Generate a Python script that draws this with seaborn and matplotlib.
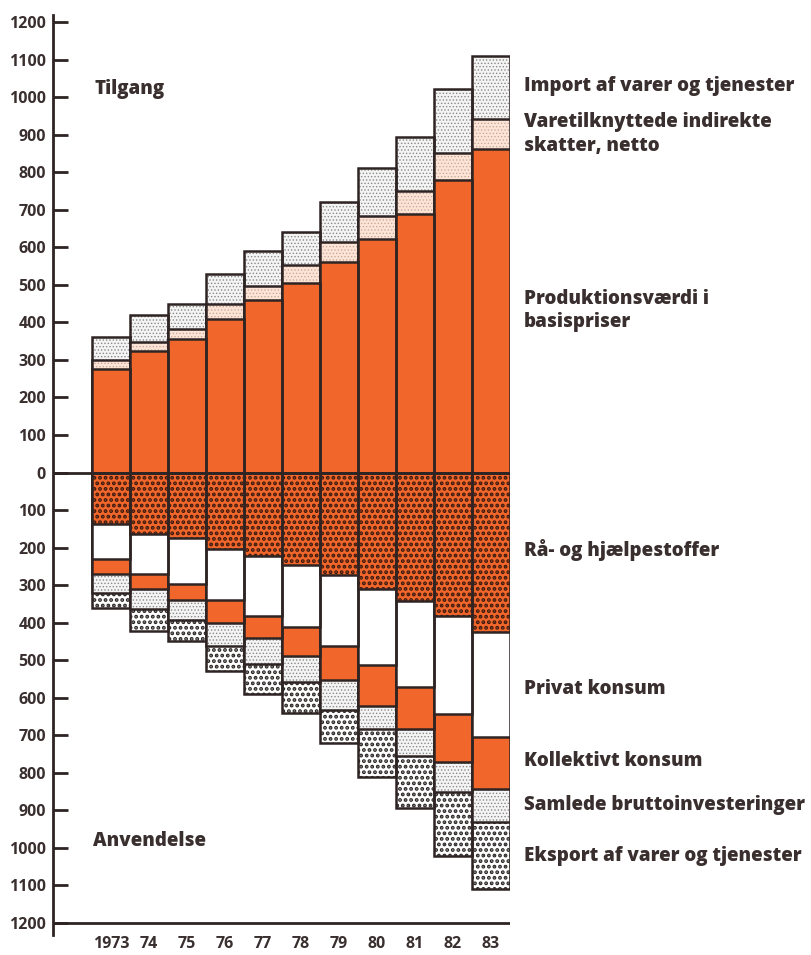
"""Tilgang og anvendelse 1973-83: stacked bars above and below zero."""

import matplotlib
matplotlib.use("Agg")
import matplotlib.pyplot as plt
import numpy as np
import pandas as pd
import seaborn as sns

years = ["1973", "74", "75", "76", "77", "78", "79", "80", "81", "82", "83"]

# Tilgang (supply), drawn upwards
production = [277, 323, 355, 408, 459, 504, 560, 621, 690, 779, 861]
indirect_taxes = [24, 24, 28, 40, 37, 48, 53, 62, 59, 72, 80]
imports = [59, 74, 67, 82, 93, 88, 107, 128, 144, 170, 168]

# Anvendelse (use), drawn downwards
raw_materials = [138, 164, 175, 204, 223, 245, 274, 311, 342, 382, 425]
private_consumption = [93, 107, 122, 136, 159, 166, 187, 203, 228, 260, 280]
collective_consumption = [40, 39, 42, 60, 59, 78, 92, 107, 113, 130, 139]
investment = [50, 53, 54, 62, 68, 70, 79, 62, 71, 80, 87]
exports = [39, 58, 57, 68, 80, 81, 88, 128, 139, 169, 178]

ORANGE = "#F1662A"
DARK = "#2e2424"
TEXT = "#3a2f2f"

# name -> (facecolor, hatch, hatch colour, hatch linewidth)
styles = {
    "production": (ORANGE, None, None, 0),
    "taxes": ("#FBE3D6", ".....", "#c4a595", 0.5),
    "imports": ("#F4F4F4", ".....", "#8a8a8a", 0.6),
    "raw": (ORANGE, "...", "#3a1a10", 1.9),
    "private": ("white", None, None, 0),
    "collective": (ORANGE, None, None, 0),
    "investment": ("#F4F4F4", ".....", "#8a8a8a", 0.6),
    "exports": ("white", "...", "#2a2424", 1.9),
}

up_layers = [("production", production), ("taxes", indirect_taxes), ("imports", imports)]
down_layers = [
    ("raw", raw_materials),
    ("private", private_consumption),
    ("collective", collective_consumption),
    ("investment", investment),
    ("exports", exports),
]

sns.set_style("white")
plt.rcParams["font.family"] = ["Open Sans", "DejaVu Sans"]

fig = plt.figure(figsize=(8.12, 9.55), dpi=100)
ax = fig.add_axes([53 / 812, 1 - 935 / 955, (510 - 53) / 812, 920 / 955])


def draw_layer(name, heights):
    face, hatch, hcol, hlw = styles[name]
    df = pd.DataFrame({"year": years, "value": heights})
    n0 = len(ax.patches)
    with plt.rc_context({"hatch.linewidth": max(hlw, 0.1)}):
        sns.barplot(data=df, x="year", y="value", order=years, color=face, saturation=1,
                    width=1.0, errorbar=None, hatch=hatch, edgecolor=hcol or face,
                    linewidth=0, ax=ax)
    for p in ax.patches[n0:]:
        if hatch and hasattr(p, "set_hatch_linewidth"):
            p.set_hatch_linewidth(hlw)
    sns.barplot(data=df, x="year", y="value", order=years, color=DARK, fill=False,
                width=1.0, errorbar=None, linewidth=1.8, ax=ax)


# cumulative stacks, outermost first so inner layers paint over them
up_cum = np.cumsum([v for _, v in up_layers], axis=0)
for (name, _), cum in reversed(list(zip(up_layers, up_cum))):
    draw_layer(name, cum)

down_cum = -np.cumsum([v for _, v in down_layers], axis=0)
for (name, _), cum in reversed(list(zip(down_layers, down_cum))):
    draw_layer(name, cum)

ax.axhline(0, color=DARK, lw=2, zorder=5)
ax.axhline(-1200, color=DARK, lw=2, zorder=5)

ax.set_xlim(-1.53, 10.5)
ax.set_ylim(-1232, 1219)
ax.set_xlabel("")
ax.set_ylabel("")

yt = np.arange(-1200, 1201, 100)
ax.set_yticks(yt)
ax.set_yticklabels([str(abs(v)) for v in yt], fontsize=11.5, color=TEXT, fontweight="bold")
ax.tick_params(axis="y", direction="in", length=11, width=2, color=DARK, pad=5, left=True)
ax.set_xticks(range(len(years)))
ax.set_xticklabels(years, fontsize=11.5, color=TEXT, fontweight="bold")
ax.tick_params(axis="x", length=0, pad=1)

for side in ["top", "right", "bottom"]:
    ax.spines[side].set_visible(False)
ax.spines["left"].set_color(DARK)
ax.spines["left"].set_linewidth(2)

label_kw = dict(fontsize=13.5, color=TEXT, fontweight="heavy", va="center", ha="left",
                linespacing=1.2)
fig.text(524 / 812, 1 - 86 / 955, "Import af varer og tjenester", **label_kw)
fig.text(524 / 812, 1 - 134 / 955, "Varetilknyttede indirekte\nskatter, netto", **label_kw)
fig.text(524 / 812, 1 - 310 / 955, "Produktionsværdi i\nbasispriser", **label_kw)
fig.text(524 / 812, 1 - 550 / 955, "Rå- og hjælpestoffer", **label_kw)
fig.text(524 / 812, 1 - 689 / 955, "Privat konsum", **label_kw)
fig.text(524 / 812, 1 - 761 / 955, "Kollektivt konsum", **label_kw)
fig.text(524 / 812, 1 - 805 / 955, "Samlede bruttoinvesteringer", **label_kw)
fig.text(524 / 812, 1 - 856 / 955, "Eksport af varer og tjenester", **label_kw)
fig.text(95 / 812, 1 - 89 / 955, "Tilgang", **label_kw)
fig.text(93 / 812, 1 - 841 / 955, "Anvendelse", **label_kw)

fig.savefig("out.png", dpi=100)
